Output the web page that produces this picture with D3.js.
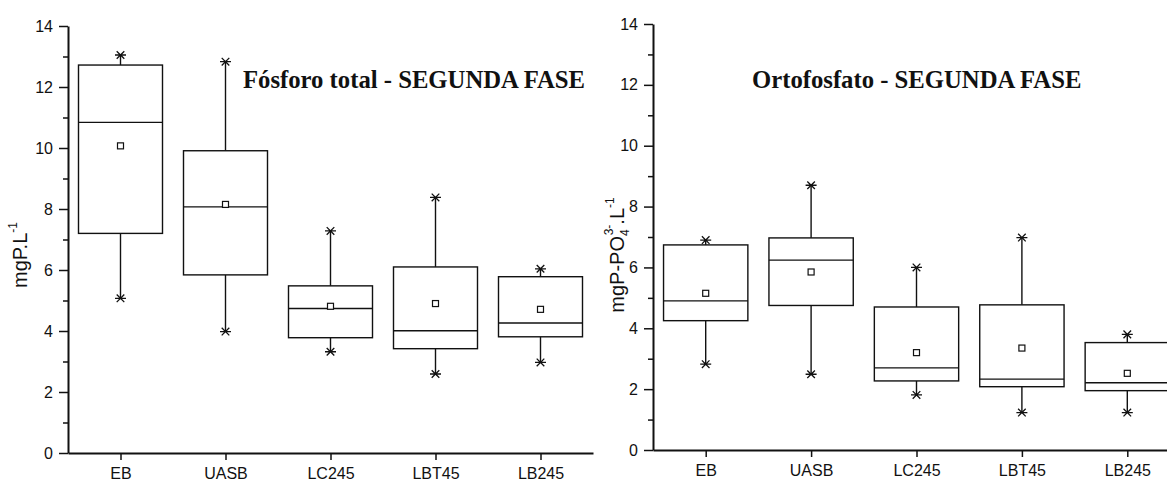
<!DOCTYPE html>
<html>
<head>
<meta charset="utf-8">
<script src="https://cdn.jsdelivr.net/npm/d3@7"></script>
<style>
  html, body { margin: 0; padding: 0; background: #fff; overflow: hidden; }
  svg { display: block; }
  .tick text { font-family: "Liberation Sans", Arial, sans-serif; font-size: 16px; fill: #111; }
  .domain, .tick line { stroke: #111; }
</style>
</head>
<body>
<svg id="chart" width="1167" height="481"></svg>
<script>
// Categories (treatment units)
const categories = ["EB", "UASB", "LC245", "LBT45", "LB245"];
const yTicks = [0, 2, 4, 6, 8, 10, 12, 14];
const yMinorTicks = [1, 3, 5, 7, 9, 11, 13];

// Fósforo total (mgP/L): box quartiles, median, mean, whisker extremes
const ftQ1     = [7.20, 5.84, 3.78, 3.42, 3.81];
const ftMedian = [10.84, 8.07, 4.74, 4.01, 4.26];
const ftQ3     = [12.72, 9.91, 5.48, 6.10, 5.78];
const ftMean   = [10.07, 8.15, 4.81, 4.90, 4.71];
const ftMin    = [5.07, 3.98, 3.32, 2.59, 2.97];
const ftMax    = [13.05, 12.83, 7.28, 8.38, 6.04];

// Ortofosfato (mgP-PO4/L)
const orQ1     = [4.25, 4.75, 2.27, 2.08, 1.95];
const orMedian = [4.90, 6.24, 2.70, 2.33, 2.21];
const orQ3     = [6.74, 6.97, 4.70, 4.77, 3.53];
const orMean   = [5.15, 5.85, 3.20, 3.35, 2.52];
const orMin    = [2.82, 2.49, 1.81, 1.23, 1.23];
const orMax    = [6.90, 8.70, 6.00, 6.98, 3.80];

const svg = d3.select("#chart");
const INK = "#111";

function drawPanel(cfg) {
  const { left, right, top, bottom, title, titleX, labelX, q1, med, q3, mean, lo, hi } = cfg;

  const x = d3.scaleBand().domain(categories).range([left, right]).paddingInner(0.2).paddingOuter(0.1);
  const xc = d => x(d) + x.bandwidth() / 2;
  const xAxisScale = d3.scalePoint().domain(categories).range([left, right]).padding(0.5);
  const y = d3.scaleLinear().domain([0, 14]).range([bottom, top]);

  const g = svg.append("g");

  // minor y ticks
  g.append("g")
    .attr("transform", `translate(${left},0)`)
    .call(d3.axisLeft(y).tickValues(yMinorTicks).tickSize(5).tickSizeOuter(0).tickFormat(""))
    .call(s => s.select(".domain").remove())
    .selectAll("line").attr("stroke-width", 1.5);

  // major y axis
  g.append("g")
    .attr("transform", `translate(${left},0)`)
    .call(d3.axisLeft(y).tickValues(yTicks).tickSize(9).tickSizeOuter(0).tickPadding(6))
    .call(s => s.select(".domain").attr("stroke-width", 2))
    .call(s => s.selectAll(".tick line").attr("stroke-width", 1.5));

  // x axis
  g.append("g")
    .attr("transform", `translate(0,${bottom})`)
    .call(d3.axisBottom(xAxisScale).tickSize(7).tickSizeOuter(0).tickPadding(8))
    .call(s => s.select(".domain").attr("stroke-width", 2))
    .call(s => s.selectAll(".tick line").attr("stroke-width", 1.5));

  const idx = d3.range(categories.length);
  const boxes = g.append("g").attr("stroke", INK).attr("stroke-width", 1.4).attr("fill", "none");

  // whiskers
  boxes.selectAll(".whisk-hi").data(idx).join("line")
    .attr("class", "whisk-hi")
    .attr("x1", i => xc(categories[i])).attr("x2", i => xc(categories[i]))
    .attr("y1", i => y(q3[i])).attr("y2", i => y(hi[i]));
  boxes.selectAll(".whisk-lo").data(idx).join("line")
    .attr("class", "whisk-lo")
    .attr("x1", i => xc(categories[i])).attr("x2", i => xc(categories[i]))
    .attr("y1", i => y(q1[i])).attr("y2", i => y(lo[i]));

  // boxes
  boxes.selectAll(".box").data(idx).join("rect")
    .attr("class", "box")
    .attr("x", i => x(categories[i]))
    .attr("width", x.bandwidth())
    .attr("y", i => y(q3[i]))
    .attr("height", i => y(q1[i]) - y(q3[i]))
    .attr("fill", "#fff");

  // medians
  boxes.selectAll(".median").data(idx).join("line")
    .attr("class", "median")
    .attr("x1", i => x(categories[i])).attr("x2", i => x(categories[i]) + x.bandwidth())
    .attr("y1", i => y(med[i])).attr("y2", i => y(med[i]));

  // means (hollow squares)
  boxes.selectAll(".mean").data(idx).join("rect")
    .attr("class", "mean")
    .attr("x", i => xc(categories[i]) - 3).attr("y", i => y(mean[i]) - 3)
    .attr("width", 6).attr("height", 6)
    .attr("fill", "#fff").attr("stroke-width", 1.2);

  // star markers at whisker ends
  const star = (cx, cy) => {
    const r = 5.5, d = 3.8;
    return `M${cx - r},${cy}H${cx + r}M${cx - d},${cy - d}L${cx + d},${cy + d}M${cx - d},${cy + d}L${cx + d},${cy - d}`;
  };
  const ends = idx.flatMap(i => [[categories[i], hi[i]], [categories[i], lo[i]]]);
  boxes.selectAll(".star").data(ends).join("path")
    .attr("class", "star")
    .attr("d", d => star(xc(d[0]), y(d[1])))
    .attr("stroke-width", 1.3);

  // title
  g.append("text")
    .attr("x", titleX).attr("y", 88)
    .attr("font-family", "'Liberation Serif', 'Times New Roman', serif")
    .attr("font-weight", "bold").attr("font-size", 24.7).attr("fill", INK)
    .text(title);

  // y axis label
  const lab = g.append("text")
    .attr("transform", `translate(${labelX},${cfg.labelY}) rotate(-90)`)
    .attr("text-anchor", "middle")
    .attr("font-family", "'Liberation Sans', Arial, sans-serif")
    .attr("font-size", 20).attr("fill", INK);
  cfg.label(lab);
}

drawPanel({
  left: 68, right: 593, top: 26, bottom: 453,
  title: "Fósforo total - SEGUNDA FASE", titleX: 243,
  labelX: 27, labelY: 255,
  q1: ftQ1, med: ftMedian, q3: ftQ3, mean: ftMean, lo: ftMin, hi: ftMax,
  label: t => {
    t.append("tspan").text("mgP.L");
    t.append("tspan").attr("dy", -10).attr("font-size", 12).text("-1");
  }
});

drawPanel({
  left: 653, right: 1180, top: 24, bottom: 450,
  title: "Ortofosfato - SEGUNDA FASE", titleX: 752,
  labelX: 624, labelY: 255,
  q1: orQ1, med: orMedian, q3: orQ3, mean: orMean, lo: orMin, hi: orMax,
  label: t => {
    t.append("tspan").text("mgP-PO");
    t.append("tspan").attr("dy", 5).attr("font-size", 12).text("4");
    t.append("tspan").attr("dy", -16).attr("dx", -6).attr("font-size", 12).text("3-");
    t.append("tspan").attr("dy", 11).attr("font-size", 20).text(".L");
    t.append("tspan").attr("dy", -10).attr("font-size", 12).text("-1");
  }
});
</script>
</body>
</html>
